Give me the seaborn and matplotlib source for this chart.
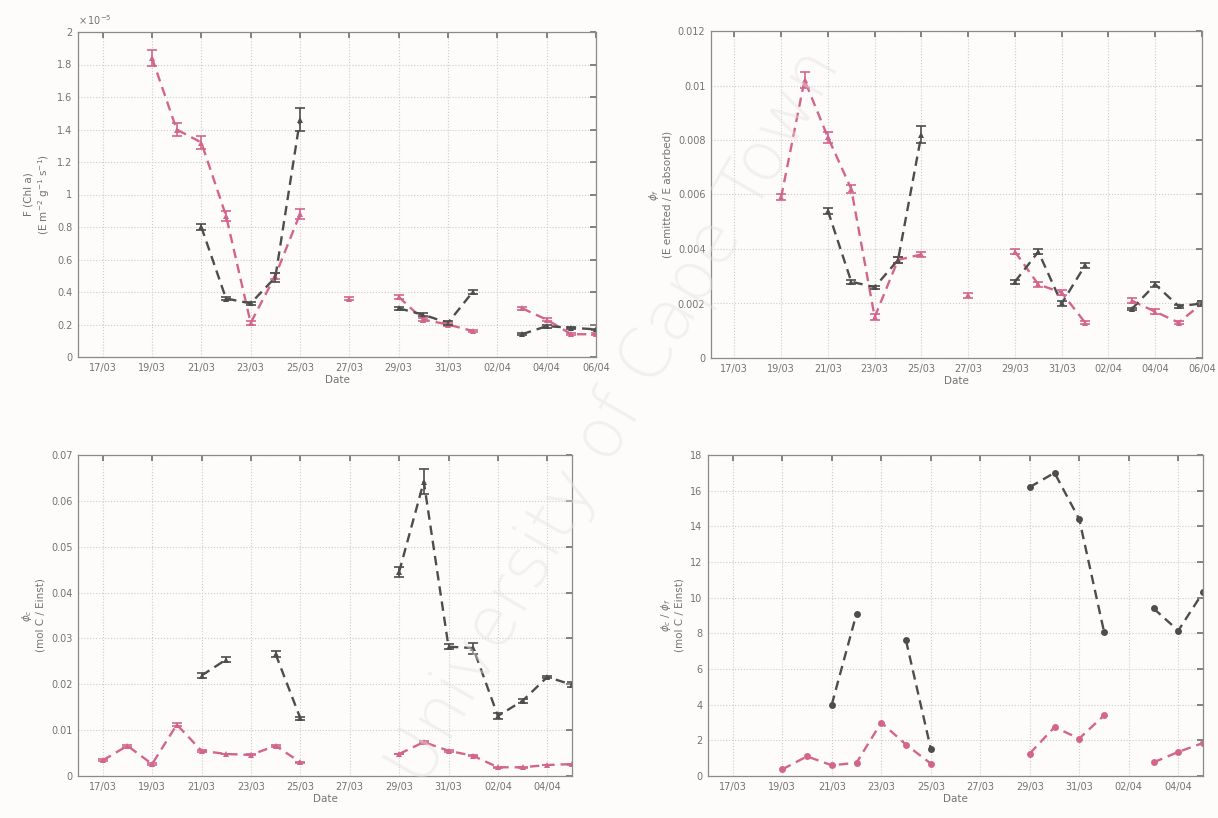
import numpy as np
import pandas as pd
import matplotlib
matplotlib.use("Agg")
import matplotlib.pyplot as plt
import seaborn as sns

nan = np.nan
# day numbers: 17 = 17/03 ... 31 = 31/03, 32 = 01/04 ... 37 = 06/04
days_top = list(range(17, 38))
days_bot = list(range(17, 37))
tick_days_top = [17, 19, 21, 23, 25, 27, 29, 31, 33, 35, 37]
tick_labels_top = ["17/03", "19/03", "21/03", "23/03", "25/03", "27/03",
                   "29/03", "31/03", "02/04", "04/04", "06/04"]
tick_days_bot = tick_days_top[:-1]
tick_labels_bot = tick_labels_top[:-1]

# Panel 1: F(Chl a) (x 1e-5)
fchl_pink = [nan, nan, 1.84, 1.40, 1.32, 0.87, 0.21, 0.50, 0.88, nan, 0.36, nan,
             0.37, 0.23, 0.20, 0.16, nan, 0.30, 0.23, 0.14, 0.14]
fchl_pink_err = [nan, nan, 0.05, 0.04, 0.04, 0.03, 0.01, 0.02, 0.03, nan, 0.01, nan,
                 0.01, 0.01, 0.01, 0.005, nan, 0.01, 0.01, 0.005, 0.005]
fchl_black = [nan, nan, nan, nan, 0.80, 0.36, 0.33, 0.49, 1.46, nan, nan, nan,
              0.30, 0.26, 0.21, 0.40, nan, 0.14, 0.19, 0.18, 0.17]
fchl_black_err = [nan, nan, nan, nan, 0.02, 0.01, 0.01, 0.03, 0.07, nan, nan, nan,
                  0.01, 0.01, 0.01, 0.01, nan, 0.005, 0.01, 0.005, 0.005]

# Panel 2: phi_f
phif_pink = [nan, nan, 0.0059, 0.0102, 0.0081, 0.0062, 0.0015, 0.0036, 0.0038, nan, 0.0023, nan,
             0.0039, 0.0027, 0.0024, 0.0013, nan, 0.0021, 0.0017, 0.0013, 0.0020]
phif_pink_err = [nan, nan, 0.00012, 0.0003, 0.0002, 0.00015, 0.0001, 0.0001, 0.0001, nan, 0.0001, nan,
                 0.0001, 0.0001, 0.0001, 0.00005, nan, 0.0001, 0.00008, 0.00005, 0.0001]
phif_black = [nan, nan, nan, nan, 0.0054, 0.0028, 0.0026, 0.0036, 0.0082, nan, nan, nan,
              0.0028, 0.0039, 0.0020, 0.0034, nan, 0.0018, 0.0027, 0.0019, 0.0020]
phif_black_err = [nan, nan, nan, nan, 0.00012, 0.00008, 0.00005, 0.0001, 0.0003, nan, nan, nan,
                  0.00008, 0.0001, 0.00008, 0.0001, nan, 0.00005, 0.0001, 0.00005, 0.0001]

# Panel 3: phi_c
phic_pink = [0.0034, 0.0066, 0.0026, 0.0112, 0.0055, 0.0048, 0.0046, 0.0066, 0.0030, nan, nan, nan,
             0.0048, 0.0074, 0.0055, 0.0044, 0.0019, 0.0019, 0.0024, 0.0026]
phic_pink_err = [0.0002, 0.0002, 0.0002, 0.0004, 0.0002, 0.0001, 0.0001, 0.0002, 0.0001, nan, nan, nan,
                 0.0001, 0.0002, 0.0002, 0.0001, 0.0001, 0.0001, 0.0001, 0.0001]
phic_black = [nan, nan, nan, nan, 0.0219, 0.0254, nan, 0.0266, 0.0126, nan, nan, nan,
              0.0445, 0.0642, 0.0282, 0.0279, 0.0131, 0.0164, 0.0216, 0.0199]
phic_black_err = [nan, nan, nan, nan, 0.0005, 0.0006, nan, 0.0006, 0.0003, nan, nan, nan,
                  0.0010, 0.0028, 0.0005, 0.0012, 0.0006, 0.0004, 0.0003, 0.0005]

# Panel 4: phi_c / phi_f
ratio_pink = [nan, nan, 0.37, 1.10, 0.60, 0.74, 3.00, 1.76, 0.70, nan, nan, nan,
              1.26, 2.74, 2.10, 3.40, nan, 0.76, 1.35, 1.85]
ratio_black = [nan, nan, nan, nan, 4.00, 9.10, nan, 7.60, 1.54, nan, nan, nan,
               16.2, 17.0, 14.4, 8.10, nan, 9.40, 8.15, 10.3]

PINK = "#d3658d"
BLACK = "#4d4d4d"
TXT = "#737373"

sns.set_theme(style="white")
plt.rcParams["font.family"] = ["DejaVu Sans"]


def long_df(days, vals, errs, name):
    v = np.array(vals, dtype=float)
    e = np.array(errs, dtype=float) if errs is not None else np.zeros_like(v)
    seg = np.cumsum(np.isnan(v))
    df = pd.DataFrame({"day": days, "val": v, "err": e,
                       "series": name, "seg": [f"{name}{s}" for s in seg]})
    return df.dropna(subset=["val"])


def panel(ax, days, series, xlim, ylim, yticks, ytl, xt, xtl, ylabel, marker, errbars=True):
    frames = [long_df(days, v, e, n) for n, v, e in series]
    df = pd.concat(frames, ignore_index=True)
    pal = {"pink": PINK, "black": BLACK}
    sns.lineplot(data=df, x="day", y="val", hue="series", units="seg",
                 estimator=None, palette=pal, linestyle=(0, (4, 2.5)), linewidth=1.7,
                 marker=marker, markersize=5 if marker == "o" else 4,
                 markeredgewidth=0, sort=False, legend=False, ax=ax)
    if errbars:
        for n in ["pink", "black"]:
            d = df[df.series == n]
            ax.errorbar(d.day, d.val, yerr=d.err, fmt="none", ecolor=pal[n],
                        elinewidth=1.2, capsize=3.5, capthick=1.2)
    ax.set_xlim(*xlim)
    ax.set_ylim(*ylim)
    ax.set_xticks(xt)
    ax.set_xticklabels(xtl)
    ax.set_yticks(yticks)
    ax.set_yticklabels(ytl)
    ax.set_xlabel("Date", fontsize=7.5, color=TXT, labelpad=2)
    ax.set_ylabel(ylabel, fontsize=7.5, color=TXT, labelpad=4)
    ax.grid(True, linestyle=":", color="#cccccc", linewidth=0.8)
    ax.tick_params(direction="in", top=True, right=True, length=4,
                   labelsize=7, colors=TXT, pad=4)
    for s in ax.spines.values():
        s.set_color("#8a8a8a")
        s.set_linewidth(0.9)


fig = plt.figure(figsize=(12.18, 8.18), dpi=100)
fig.patch.set_facecolor("#fefcfb")

W, H = 1218, 818


def box(l, r, t, b):
    return [l / W, 1 - b / H, (r - l) / W, (b - t) / H]


ax1 = fig.add_axes(box(78, 596, 32, 357))
ax2 = fig.add_axes(box(711, 1202, 31, 358))
ax3 = fig.add_axes(box(78, 572, 455, 776))
ax4 = fig.add_axes(box(708, 1203, 455, 776))
for a in (ax1, ax2, ax3, ax4):
    a.set_facecolor("#fefcfb")

yt1 = [0, 0.2, 0.4, 0.6, 0.8, 1.0, 1.2, 1.4, 1.6, 1.8, 2.0]
panel(ax1, days_top,
      [("pink", fchl_pink, fchl_pink_err), ("black", fchl_black, fchl_black_err)],
      (16, 37), (0, 2), yt1, ["0", "0.2", "0.4", "0.6", "0.8", "1", "1.2", "1.4", "1.6", "1.8", "2"],
      tick_days_top, tick_labels_top,
      "F (Chl a)\n(E m$^{-2}$ g$^{-1}$ s$^{-1}$)", "^")
ax1.text(0.0, 1.015, r"$\times\,10^{-5}$", transform=ax1.transAxes,
         fontsize=7, color=TXT, ha="left", va="bottom")

yt2 = [0, 0.002, 0.004, 0.006, 0.008, 0.010, 0.012]
panel(ax2, days_top,
      [("pink", phif_pink, phif_pink_err), ("black", phif_black, phif_black_err)],
      (16, 37), (0, 0.012), yt2, ["0", "0.002", "0.004", "0.006", "0.008", "0.01", "0.012"],
      tick_days_top, tick_labels_top,
      "$\\phi_f$\n(E emitted / E absorbed)", "^")

yt3 = [0, 0.01, 0.02, 0.03, 0.04, 0.05, 0.06, 0.07]
panel(ax3, days_bot,
      [("pink", phic_pink, phic_pink_err), ("black", phic_black, phic_black_err)],
      (16, 36), (0, 0.07), yt3, ["0", "0.01", "0.02", "0.03", "0.04", "0.05", "0.06", "0.07"],
      tick_days_bot, tick_labels_bot,
      "$\\phi_c$\n(mol C / Einst)", "^")

yt4 = list(range(0, 19, 2))
panel(ax4, days_bot,
      [("pink", ratio_pink, None), ("black", ratio_black, None)],
      (16, 36), (0, 18), yt4, [str(v) for v in yt4],
      tick_days_bot, tick_labels_bot,
      "$\\phi_c$ / $\\phi_f$\n(mol C / Einst)", "o", errbars=False)

fig.text(0.505, 0.49, "University of Cape Town", rotation=60, fontsize=50,
         color="#e2e2e2", alpha=0.45, ha="center", va="center", zorder=10,
         fontweight="light")

fig.savefig("out.png", dpi=100, facecolor=fig.get_facecolor())
